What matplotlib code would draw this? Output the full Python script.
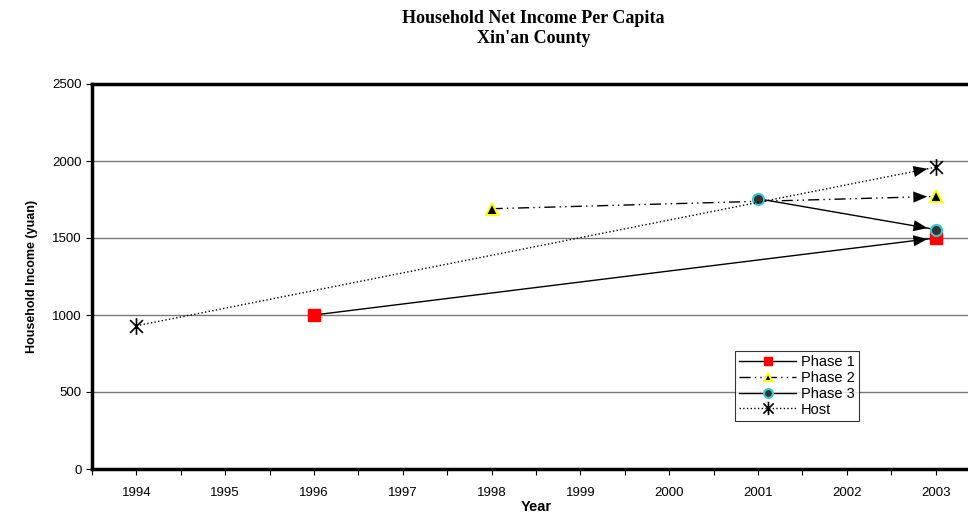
import matplotlib
matplotlib.use("Agg")
import matplotlib.pyplot as plt
from matplotlib.path import Path

years = ["1994", "1995", "1996", "1997", "1998", "1999", "2000", "2001", "2002", "2003"]

phase1_years = ["1996", "2003"]
phase1_income = [1000, 1500]
phase2_years = ["1998", "2003"]
phase2_income = [1690, 1770]
phase3_years = ["2001", "2003"]
phase3_income = [1755, 1555]
host_years = ["1994", "2003"]
host_income = [930, 1960]

# excel style asterisk: X plus a vertical bar
asterisk = Path([(-1, -1), (1, 1), (-1, 1), (1, -1), (0, -1.3), (0, 1.3)],
                [Path.MOVETO, Path.LINETO, Path.MOVETO, Path.LINETO, Path.MOVETO, Path.LINETO])

plt.rcParams['font.family'] = ['Liberation Sans', 'DejaVu Sans']

fig = plt.figure(figsize=(9.68, 5.16), dpi=100)
ax = fig.add_axes([92 / 968, 47 / 516, 888 / 968, 385 / 516])

series = [
    ("Phase 1", phase1_years, phase1_income, dict(ls="-", marker="s", ms=8, mfc="red", mec="red")),
    ("Phase 2", phase2_years, phase2_income, dict(ls=(0, (8, 3, 1, 3, 1, 3)), marker="^", ms=8,
                                                  mfc="black", mec="yellow", mew=1.5)),
    ("Phase 3", phase3_years, phase3_income, dict(ls="-", marker="o", ms=8, mfc="#333333",
                                                  mec="#33cccc", mew=1.5)),
    ("Host", host_years, host_income, dict(ls=":", marker=asterisk, ms=12, mfc="none",
                                           mec="black", mew=1.2)),
]

for name, yrs, vals, style in series:
    xs = [years.index(y) for y in yrs]
    ax.plot(xs, vals, color="black", lw=1, label=name, zorder=3, **style)
    # arrow head at the end of each line
    ax.annotate("", xy=(xs[-1], vals[-1]), xytext=(xs[0], vals[0]),
                arrowprops=dict(arrowstyle="-|>,head_length=1.0,head_width=0.4",
                                color="black", lw=0.01, shrinkA=0, shrinkB=6),
                zorder=4)

ax.set_xlim(-0.5, 9.5)
ax.set_ylim(0, 2500)
ax.set_xticks(range(len(years)))
ax.set_xticklabels(years)
ax.set_xticks([i + 0.5 for i in range(-1, len(years))], minor=True)
ax.set_yticks(range(0, 2501, 500))
ax.tick_params(axis="both", which="both", direction="out", length=4, width=0.8,
               labelsize=9.5, colors="black")
ax.tick_params(axis="x", pad=9)
ax.yaxis.grid(True, color="#777777", lw=1)
ax.set_axisbelow(True)
for side in ["left", "bottom", "top"]:
    ax.spines[side].set_linewidth(2.5)
ax.spines["right"].set_visible(False)

ax.set_xlabel("Year", fontsize=10.5, fontweight="bold", labelpad=1)
ax.set_ylabel("Household Income (yuan)", fontsize=9, fontweight="bold", labelpad=10)

fig.text(0.551, 0.945, "Household Net Income Per Capita\nXin'an County", ha="center", va="center",
         fontsize=13, fontweight="bold", family="Liberation Serif", linespacing=1.25)

leg = ax.legend(loc="lower left", bbox_to_anchor=(0.724, 0.125), fontsize=10.5, frameon=True,
                fancybox=False, edgecolor="black", handlelength=3.9, labelspacing=0.12,
                borderpad=0.3, handletextpad=0.3, borderaxespad=0, markerscale=0.8)
leg.get_frame().set_linewidth(0.8)

fig.savefig("out.png", dpi=100)
